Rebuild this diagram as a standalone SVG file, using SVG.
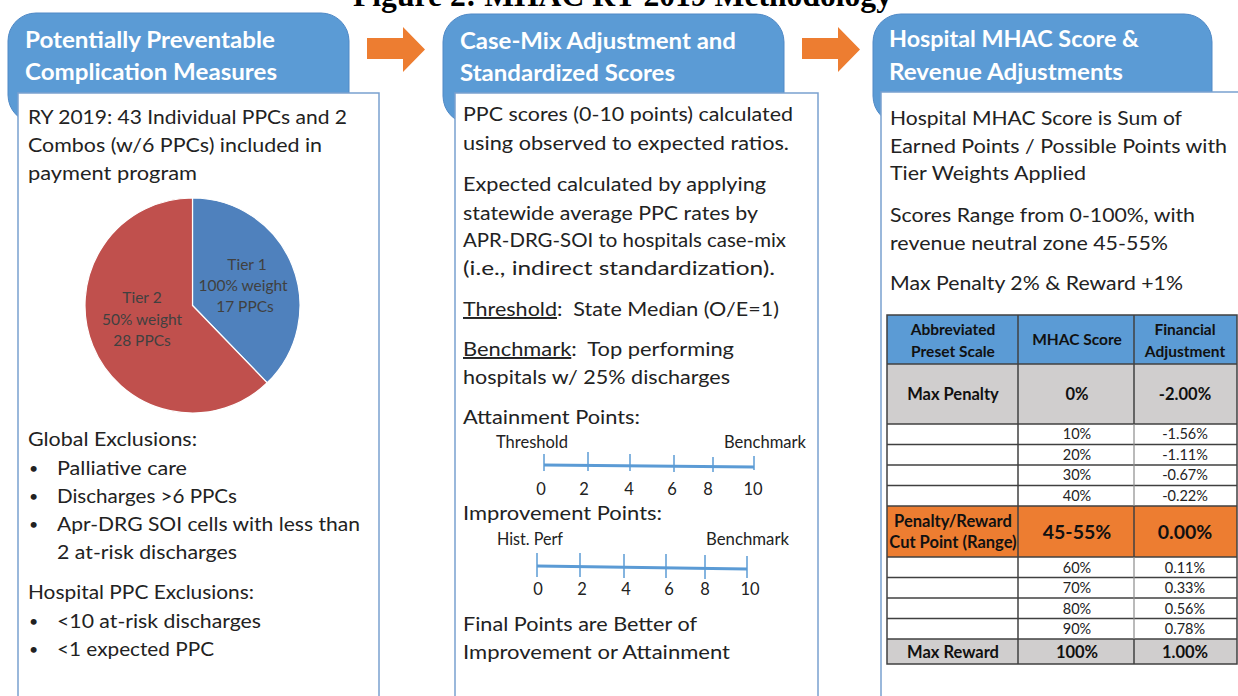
<svg xmlns="http://www.w3.org/2000/svg" width="1238" height="696" viewBox="0 0 1238 696">
<defs>
<style>
text{font-family:Lato,"Liberation Sans",sans-serif}
.title{font-family:"Liberation Serif","Times New Roman",serif;font-weight:bold;font-size:31px;fill:#000}
.hdrbox{fill:#5b9bd5;stroke:#5089c6;stroke-width:1}
.bodybox{fill:#fff;stroke:#7aa1cf;stroke-width:1.5}
.hdr{font-weight:bold;font-size:22px;fill:#fff}
.b{font-size:19.5px;fill:#222}
.bul{font-size:16px;fill:#222}
.s{font-size:16.5px;fill:#222}
.pie{font-size:15.5px;fill:#404040}
.th{font-weight:bold;font-size:15.5px;fill:#111}
.tb{font-weight:bold;font-size:16.5px;fill:#111}
.tbb{font-weight:bold;font-size:19.5px;fill:#111}
.td{font-size:14.5px;fill:#222}
.arrow{fill:#ed7d31}
.scale{stroke:#5b9bd5;stroke-width:3;fill:none}
.tick{stroke:#5b9bd5;stroke-width:1.5}
.grid{stroke:#404040;stroke-width:1.5;fill:none}
.gridl{stroke:#8c8c8c;stroke-width:1.2}
</style>
</defs>
<rect width="1238" height="696" fill="#fff"/>
<text class="title" x="353" y="6" textLength="539" lengthAdjust="spacingAndGlyphs">Figure 2: MHAC RY 2019 Methodology</text>

<g id="connectors">
<polygon class="arrow" points="367,38 403,38 403,27 425,49.5 403,72 403,59 367,59"/>
<polygon class="arrow" points="802,38 838,38 838,27 860,49.5 838,72 838,59 802,59"/>
</g>

<g id="panel-ppc">
<rect class="hdrbox" x="8" y="13" width="341" height="110" rx="28"/>
<text class="hdr" x="25" y="48" textLength="250" lengthAdjust="spacingAndGlyphs">Potentially Preventable</text>
<text class="hdr" x="25" y="80" textLength="252" lengthAdjust="spacingAndGlyphs">Complication Measures</text>
<rect class="bodybox" x="18" y="93" width="361" height="620"/>
<text class="b" x="28" y="124" textLength="319" lengthAdjust="spacingAndGlyphs">RY 2019: 43 Individual PPCs and 2</text>
<text class="b" x="28" y="152" textLength="294" lengthAdjust="spacingAndGlyphs">Combos (w/6 PPCs) included in</text>
<text class="b" x="28" y="180" textLength="169" lengthAdjust="spacingAndGlyphs">payment program</text>
<g id="pie">
<path d="M192.5,305.5 L192.5,198 A107.5,107.5 0 0 1 267.2,382.8 Z" fill="#4f81bd" stroke="#fff" stroke-width="1.2"/>
<path d="M192.5,305.5 L267.2,382.8 A107.5,107.5 0 1 1 192.5,198 Z" fill="#c0504d" stroke="#fff" stroke-width="1.2"/>
<text class="pie" x="247" y="270" text-anchor="middle">Tier 1</text>
<text class="pie" x="243" y="291" text-anchor="middle">100% weight</text>
<text class="pie" x="245" y="312" text-anchor="middle">17 PPCs</text>
<text class="pie" x="142" y="303" text-anchor="middle">Tier 2</text>
<text class="pie" x="142" y="325" text-anchor="middle">50% weight</text>
<text class="pie" x="142" y="346" text-anchor="middle">28 PPCs</text>
</g>
<text class="b" x="28" y="446" textLength="169" lengthAdjust="spacingAndGlyphs">Global Exclusions:</text>
<text class="bul" x="29" y="474">•</text>
<text class="b" x="57" y="475" textLength="130" lengthAdjust="spacingAndGlyphs">Palliative care</text>
<text class="bul" x="29" y="502">•</text>
<text class="b" x="57" y="503" textLength="180" lengthAdjust="spacingAndGlyphs">Discharges &gt;6 PPCs</text>
<text class="bul" x="29" y="530">•</text>
<text class="b" x="57" y="531" textLength="303" lengthAdjust="spacingAndGlyphs">Apr-DRG SOI cells with less than</text>
<text class="b" x="57" y="559" textLength="180" lengthAdjust="spacingAndGlyphs">2 at-risk discharges</text>
<text class="b" x="28" y="599" textLength="226" lengthAdjust="spacingAndGlyphs">Hospital PPC Exclusions:</text>
<text class="bul" x="29" y="627">•</text>
<text class="b" x="57" y="628" textLength="204" lengthAdjust="spacingAndGlyphs">&lt;10 at-risk discharges</text>
<text class="bul" x="29" y="655">•</text>
<text class="b" x="57" y="656" textLength="157" lengthAdjust="spacingAndGlyphs">&lt;1 expected PPC</text>
</g>

<g id="panel-casemix">
<rect class="hdrbox" x="443" y="14" width="341" height="110" rx="28"/>
<text class="hdr" x="460" y="49" textLength="276" lengthAdjust="spacingAndGlyphs">Case-Mix Adjustment and</text>
<text class="hdr" x="460" y="81" textLength="215" lengthAdjust="spacingAndGlyphs">Standardized Scores</text>
<rect class="bodybox" x="455" y="93" width="363" height="620"/>
<text class="b" x="463" y="121" textLength="330" lengthAdjust="spacingAndGlyphs">PPC scores (0-10 points) calculated</text>
<text class="b" x="463" y="150" textLength="326" lengthAdjust="spacingAndGlyphs">using observed to expected ratios.</text>
<text class="b" x="463" y="191" textLength="303" lengthAdjust="spacingAndGlyphs">Expected calculated by applying</text>
<text class="b" x="463" y="220" textLength="295" lengthAdjust="spacingAndGlyphs">statewide average PPC rates by</text>
<text class="b" x="463" y="247" textLength="323" lengthAdjust="spacingAndGlyphs">APR-DRG-SOI to hospitals case-mix</text>
<text class="b" x="463" y="275" textLength="312" lengthAdjust="spacingAndGlyphs">(i.e., indirect standardization).</text>
<text class="b" x="463" y="316" xml:space="preserve" textLength="316" lengthAdjust="spacingAndGlyphs"><tspan text-decoration="underline">Threshold</tspan>:  State Median (O/E=1)</text>
<text class="b" x="463" y="356" xml:space="preserve" textLength="271" lengthAdjust="spacingAndGlyphs"><tspan text-decoration="underline">Benchmark</tspan>:  Top performing</text>
<text class="b" x="463" y="384" textLength="267" lengthAdjust="spacingAndGlyphs">hospitals w/ 25% discharges</text>
<text class="b" x="463" y="424" textLength="177" lengthAdjust="spacingAndGlyphs">Attainment Points:</text>
<g id="attainment-scale">
<text class="s" x="496" y="448" textLength="72" lengthAdjust="spacingAndGlyphs">Threshold</text>
<text class="s" x="724" y="448" textLength="82" lengthAdjust="spacingAndGlyphs">Benchmark</text>
<line class="scale" x1="544" y1="465" x2="754" y2="467"/>
<line class="tick" x1="544" y1="454" x2="544" y2="471"/>
<line class="tick" x1="588" y1="452" x2="588" y2="471"/>
<line class="tick" x1="630" y1="454" x2="630" y2="471"/>
<line class="tick" x1="674" y1="455" x2="674" y2="472"/>
<line class="tick" x1="713" y1="457" x2="713" y2="472"/>
<line class="tick" x1="754" y1="456" x2="754" y2="470"/>
<text class="s" x="541" y="495" text-anchor="middle">0</text>
<text class="s" x="584" y="495" text-anchor="middle">2</text>
<text class="s" x="629" y="495" text-anchor="middle">4</text>
<text class="s" x="672" y="495" text-anchor="middle">6</text>
<text class="s" x="708" y="495" text-anchor="middle">8</text>
<text class="s" x="753" y="495" text-anchor="middle">10</text>
</g>
<text class="b" x="463" y="520" textLength="199" lengthAdjust="spacingAndGlyphs">Improvement Points:</text>
<g id="improvement-scale">
<text class="s" x="497" y="545" textLength="66" lengthAdjust="spacingAndGlyphs">Hist. Perf</text>
<text class="s" x="706" y="545" textLength="83" lengthAdjust="spacingAndGlyphs">Benchmark</text>
<line class="scale" x1="537" y1="566" x2="747" y2="569"/>
<line class="tick" x1="537" y1="553" x2="537" y2="577"/>
<line class="tick" x1="580" y1="553" x2="580" y2="577"/>
<line class="tick" x1="624" y1="554" x2="624" y2="578"/>
<line class="tick" x1="666" y1="554" x2="666" y2="578"/>
<line class="tick" x1="705" y1="555" x2="705" y2="579"/>
<line class="tick" x1="747" y1="556" x2="747" y2="578"/>
<text class="s" x="538" y="595" text-anchor="middle">0</text>
<text class="s" x="582" y="595" text-anchor="middle">2</text>
<text class="s" x="626" y="595" text-anchor="middle">4</text>
<text class="s" x="669" y="595" text-anchor="middle">6</text>
<text class="s" x="705" y="595" text-anchor="middle">8</text>
<text class="s" x="750" y="595" text-anchor="middle">10</text>
</g>
<text class="b" x="463" y="631" textLength="234" lengthAdjust="spacingAndGlyphs">Final Points are Better of</text>
<text class="b" x="463" y="659" textLength="267" lengthAdjust="spacingAndGlyphs">Improvement or Attainment</text>
</g>

<g id="panel-mhac">
<rect class="hdrbox" x="873" y="14" width="339" height="110" rx="28"/>
<text class="hdr" x="889" y="47" textLength="250" lengthAdjust="spacingAndGlyphs">Hospital MHAC Score &amp;</text>
<text class="hdr" x="889" y="80" textLength="234" lengthAdjust="spacingAndGlyphs">Revenue Adjustments</text>
<rect class="bodybox" x="881" y="92" width="380" height="620"/>
<text class="b" x="890" y="125" textLength="292" lengthAdjust="spacingAndGlyphs">Hospital MHAC Score is Sum of</text>
<text class="b" x="890" y="153" textLength="337" lengthAdjust="spacingAndGlyphs">Earned Points / Possible Points with</text>
<text class="b" x="890" y="180" textLength="196" lengthAdjust="spacingAndGlyphs">Tier Weights Applied</text>
<text class="b" x="890" y="222" textLength="305" lengthAdjust="spacingAndGlyphs">Scores Range from 0-100%, with</text>
<text class="b" x="890" y="250" textLength="278" lengthAdjust="spacingAndGlyphs">revenue neutral zone 45-55%</text>
<text class="b" x="890" y="290" textLength="293" lengthAdjust="spacingAndGlyphs">Max Penalty 2% &amp; Reward +1%</text>
<g id="mhac-table">
<rect x="887" y="315" width="350" height="49" fill="#5b9bd5"/>
<rect x="887" y="364" width="350" height="60" fill="#d0cece"/>
<rect x="887" y="506" width="350" height="51" fill="#ed7d31"/>
<rect x="887" y="639" width="350" height="25" fill="#d0cece"/>
<g class="grid">
<rect x="887" y="315" width="350" height="349"/>
<line x1="887" y1="364" x2="1237" y2="364"/>
<line x1="887" y1="424" x2="1237" y2="424"/>
<line x1="887" y1="444.5" x2="1237" y2="444.5"/>
<line x1="887" y1="465" x2="1237" y2="465"/>
<line x1="887" y1="485.5" x2="1237" y2="485.5"/>
<line x1="887" y1="506" x2="1237" y2="506"/>
<line x1="887" y1="557" x2="1237" y2="557"/>
<line x1="887" y1="577.5" x2="1237" y2="577.5"/>
<line x1="887" y1="598" x2="1237" y2="598"/>
<line x1="887" y1="618.5" x2="1237" y2="618.5"/>
<line x1="887" y1="639" x2="1237" y2="639"/>
<line x1="1018" y1="315" x2="1018" y2="664"/>
<line x1="1134" y1="315" x2="1134" y2="424"/>
<line x1="1134" y1="506" x2="1134" y2="557"/>
<line x1="1134" y1="639" x2="1134" y2="664"/>
</g>
<line class="gridl" x1="1134" y1="424" x2="1134" y2="506"/>
<line class="gridl" x1="1134" y1="557" x2="1134" y2="639"/>
<text class="th" x="953" y="335" text-anchor="middle">Abbreviated</text>
<text class="th" x="953" y="357" text-anchor="middle">Preset Scale</text>
<text class="th" x="1077" y="345" text-anchor="middle">MHAC Score</text>
<text class="th" x="1185" y="335" text-anchor="middle">Financial</text>
<text class="th" x="1185" y="357" text-anchor="middle">Adjustment</text>
<text class="tb" x="953" y="400" text-anchor="middle">Max Penalty</text>
<text class="tb" x="1077" y="400" text-anchor="middle">0%</text>
<text class="tb" x="1185" y="400" text-anchor="middle">-2.00%</text>
<text class="td" x="1077" y="439" text-anchor="middle">10%</text>
<text class="td" x="1185" y="439" text-anchor="middle">-1.56%</text>
<text class="td" x="1077" y="460" text-anchor="middle">20%</text>
<text class="td" x="1185" y="460" text-anchor="middle">-1.11%</text>
<text class="td" x="1077" y="480" text-anchor="middle">30%</text>
<text class="td" x="1185" y="480" text-anchor="middle">-0.67%</text>
<text class="td" x="1077" y="501" text-anchor="middle">40%</text>
<text class="td" x="1185" y="501" text-anchor="middle">-0.22%</text>
<text class="tb" x="953" y="527" text-anchor="middle">Penalty/Reward</text>
<text class="tb" x="953" y="548" text-anchor="middle">Cut Point (Range)</text>
<text class="tbb" x="1077" y="539" text-anchor="middle">45-55%</text>
<text class="tbb" x="1185" y="539" text-anchor="middle">0.00%</text>
<text class="td" x="1077" y="573" text-anchor="middle">60%</text>
<text class="td" x="1185" y="573" text-anchor="middle">0.11%</text>
<text class="td" x="1077" y="593" text-anchor="middle">70%</text>
<text class="td" x="1185" y="593" text-anchor="middle">0.33%</text>
<text class="td" x="1077" y="614" text-anchor="middle">80%</text>
<text class="td" x="1185" y="614" text-anchor="middle">0.56%</text>
<text class="td" x="1077" y="634" text-anchor="middle">90%</text>
<text class="td" x="1185" y="634" text-anchor="middle">0.78%</text>
<text class="tb" x="953" y="658" text-anchor="middle">Max Reward</text>
<text class="tb" x="1077" y="658" text-anchor="middle">100%</text>
<text class="tb" x="1185" y="658" text-anchor="middle">1.00%</text>
</g>
</g>
</svg>
